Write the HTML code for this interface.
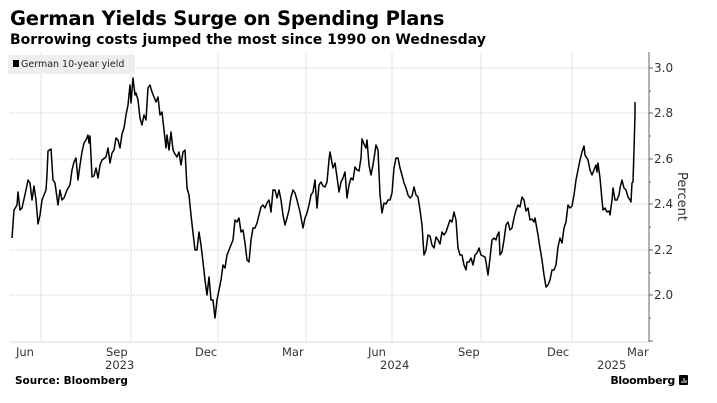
<!DOCTYPE html>
<html><head><meta charset="utf-8"><style>
body{margin:0;width:717px;height:403px;background:#fff;font-family:"DejaVu Sans","Liberation Sans",sans-serif;overflow:hidden;position:relative}
.t{position:absolute;left:10px;top:7px;font-size:19.5px;font-weight:bold;color:#000;letter-spacing:-0.2px}
.s{position:absolute;left:10px;top:32px;font-size:14px;font-weight:bold;color:#000}
.src{position:absolute;left:15px;top:375px;font-size:10.5px;font-weight:bold}
.bb{position:absolute;right:42px;top:374px;font-size:11px;font-weight:bold;letter-spacing:-0.3px}
</style></head><body>
<div class="t">German Yields Surge on Spending Plans</div>
<div class="s">Borrowing costs jumped the most since 1990 on Wednesday</div>
<svg width="717" height="403" style="position:absolute;left:0;top:0" font-family="DejaVu Sans, Liberation Sans, sans-serif">
<g stroke="#ccc" stroke-dasharray="1,1" stroke-width="1">
<line x1="10" x2="649" y1="68" y2="68"/><line x1="10" x2="649" y1="113" y2="113"/><line x1="10" x2="649" y1="159" y2="159"/><line x1="10" x2="649" y1="204" y2="204"/><line x1="10" x2="649" y1="250" y2="250"/><line x1="10" x2="649" y1="295" y2="295"/>
</g>
<g stroke="#e3e3e3" stroke-width="1">
<line x1="41" x2="41" y1="52" y2="342"/><line x1="131" x2="131" y1="52" y2="342"/><line x1="218" x2="218" y1="52" y2="342"/><line x1="306" x2="306" y1="52" y2="342"/><line x1="392" x2="392" y1="52" y2="342"/><line x1="481" x2="481" y1="52" y2="342"/><line x1="572" x2="572" y1="52" y2="342"/>
</g>
<line x1="10" x2="649" y1="342" y2="342" stroke="#ddd"/>
<line x1="649" x2="649" y1="52" y2="342" stroke="#666"/>
<g stroke="#666"><line x1="649" x2="653" y1="68" y2="68"/><line x1="649" x2="653" y1="113" y2="113"/><line x1="649" x2="653" y1="159" y2="159"/><line x1="649" x2="653" y1="204" y2="204"/><line x1="649" x2="653" y1="250" y2="250"/><line x1="649" x2="653" y1="295" y2="295"/><line x1="649" x2="653" y1="341" y2="341"/>
<line x1="649" x2="651" y1="91" y2="91"/><line x1="649" x2="651" y1="136" y2="136"/><line x1="649" x2="651" y1="182" y2="182"/><line x1="649" x2="651" y1="227" y2="227"/><line x1="649" x2="651" y1="273" y2="273"/><line x1="649" x2="651" y1="318" y2="318"/></g>
<g font-size="12" fill="#333"><text x="654" y="72">3.0</text><text x="654" y="117">2.8</text><text x="654" y="163">2.6</text><text x="654" y="208">2.4</text><text x="654" y="254">2.2</text><text x="654" y="299">2.0</text></g>
<text x="0" y="0" font-size="13" fill="#333" transform="translate(678,172) rotate(90)">Percent</text>
<g font-size="11.5" fill="#333">
<text x="16" y="356">Jun</text><text x="106" y="356">Sep</text><text x="105" y="369">2023</text><text x="195" y="356">Dec</text><text x="282" y="356">Mar</text><text x="368" y="356">Jun</text><text x="380" y="369">2024</text><text x="458" y="356">Sep</text><text x="547" y="356">Dec</text><text x="627" y="356">Mar</text><text x="597" y="369">2025</text>
</g>
<rect x="8" y="55" width="127" height="19" fill="#eee"/>
<rect x="13" y="60" width="6" height="7" fill="#000"/>
<text x="21" y="67" font-size="9.5" fill="#222">German 10-year yield</text>
<polyline fill="none" stroke="#000" stroke-width="1.5" stroke-linejoin="round" points="12,238 14,210 17,205 18,192 20,210 22,208 26,190 28,180 30,183 32,200 34,186 36,200 38,224 40,215 42,200 44,195 46,190 47,175 48,151 51,149 53,180 55,183 58,205 60,190 62,200 64,198 67,190 70,185 72,170 74,162 76,158 78,180 80,165 82,152 84,143 86,140 88,135 89,143 90,136 92,177 94,176 96,168 98,178 100,165 102,160 106,157 108,148 110,163 112,153 114,150 116,138 118,140 120,148 122,134 124,128 126,115 128,105 130,85 131,103 133,78 135,95 136,93 138,100 140,118 142,125 144,115 146,120 148,88 150,85 152,92 154,97 156,102 158,97 160,115 162,112 164,130 166,148 167,135 169,150 171,132 173,150 175,154 177,157 179,152 181,165 183,152 185,150 187,188 189,195 191,215 193,233 195,250 197,250 199,232 201,245 203,262 205,280 207,295 209,277 211,300 213,300 215,318 217,300 219,290 221,280 223,265 225,268 227,255 229,250 231,245 233,240 235,220 237,222 239,218 241,232 243,230 245,243 247,260 249,262 251,240 253,228 255,228 257,223 259,215 261,207 263,205 265,208 267,203 269,200 271,212 273,190 275,190 277,198 279,190 281,200 283,215 285,225 287,218 289,210 291,197 293,190 295,193 297,200 300,212 303,228 305,218 307,213 309,205 311,195 313,192 315,180 317,208 319,185 321,182 323,186 325,187 327,182 329,160 330,152 333,168 335,163 337,177 339,192 341,182 343,178 345,172 347,198 349,185 351,178 353,180 355,167 357,170 359,171 361,158 362,139 364,144 366,148 367,140 369,165 371,175 373,165 375,152 376,145 378,150 380,195 382,213 384,203 386,204 388,200 390,200 392,193 394,168 396,158 398,158 400,168 402,175 404,183 406,188 408,195 410,198 412,196 414,187 416,195 418,197 420,210 422,225 424,255 426,250 428,235 430,236 432,245 434,248 436,237 438,240 440,244 442,232 444,235 446,232 448,226 450,220 452,222 454,212 456,220 458,248 460,255 462,255 464,265 466,270 467,262 469,262 471,258 473,265 475,255 477,253 479,248 481,255 483,256 485,257 486,262 488,275 490,258 492,240 494,238 496,240 497,236 499,232 500,255 502,252 504,240 506,225 508,222 510,230 512,228 514,218 516,210 518,205 520,207 522,197 524,200 526,211 528,208 530,220 532,219 534,222 535,218 538,235 540,248 542,260 544,275 546,287 548,285 550,280 552,270 554,270 556,265 558,247 560,238 562,243 564,228 566,222 568,205 570,208 572,206 574,195 576,180 578,170 580,160 582,152 584,146 585,155 588,160 590,170 592,175 594,170 596,165 597,172 598,163 600,178 602,200 603,210 605,208 607,212 609,211 610,215 612,200 613,188 615,200 617,200 619,195 620,188 622,180 624,188 626,190 628,197 630,200 631,202 632,183 633,182 634,150 635,115 635,102"/>
<rect x="679" y="375" width="9" height="10" rx="1" fill="#000"/>
<g stroke="#fff" stroke-width="1"><line x1="682" x2="682" y1="381" y2="383"/><line x1="684" x2="684" y1="378" y2="383"/><line x1="686" x2="686" y1="380" y2="383"/></g>
</svg>
<div class="src">Source: Bloomberg</div>
<div class="bb">Bloomberg</div>
</body></html>
